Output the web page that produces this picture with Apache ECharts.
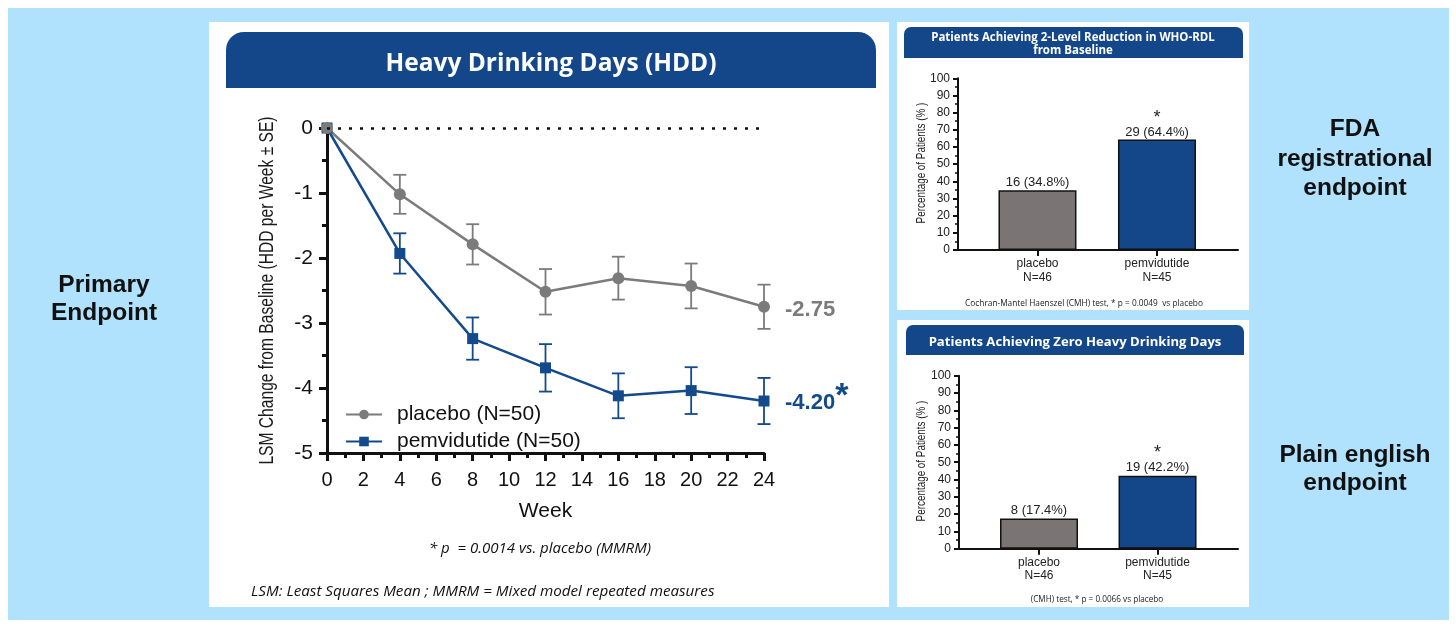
<!DOCTYPE html>
<html>
<head>
<meta charset="utf-8">
<script src="https://cdn.jsdelivr.net/npm/echarts@6/dist/echarts.min.js"></script>
<style>
  html, body { margin: 0; padding: 0; background: #fff; }
  #main { width: 1456px; height: 629px; }
</style>
</head>
<body>
<div id="main"></div>
<script>
// Heavy drinking days, LSM change from baseline
var weeks = [0, 4, 8, 12, 16, 20, 24];
var placeboMean = [0, -1.02, -1.79, -2.52, -2.31, -2.43, -2.75];
var placeboSE = [0, 0.30, 0.31, 0.35, 0.33, 0.345, 0.34];
var pemMean = [0, -1.93, -3.24, -3.69, -4.12, -4.04, -4.20];
var pemSE = [0, 0.31, 0.325, 0.365, 0.345, 0.36, 0.355];

// responder bar charts
var barGroups = ['placebo\nN=46', 'pemvidutide\nN=45'];
var rdlCounts = [16, 29];
var rdlPct = [34.8, 64.4];
var zeroCounts = [8, 19];
var zeroPct = [17.4, 42.2];
var barStars = ['', '*'];

var blue = '#124a8c';
var headerBlue = '#14478a';
var grey = '#7b7b7b';
var barGrey = '#7a7474';
var sans = '"Liberation Sans", Arial, sans-serif';
var open = '"Open Sans", sans-serif';

function errorBars(mean, se, color) {
  return {
    type: 'custom',
    xAxisIndex: 0,
    yAxisIndex: 0,
    z: 1,
    data: weeks.map(function (w, i) { return [w, mean[i] + se[i], mean[i] - se[i]]; }),
    renderItem: function (params, api) {
      if (api.value(1) === api.value(2)) return null;
      var top = api.coord([api.value(0), api.value(1)]);
      var bot = api.coord([api.value(0), api.value(2)]);
      var hw = 6.5;
      var st = { stroke: color, lineWidth: 1.8 };
      return {
        type: 'group',
        children: [
          { type: 'line', shape: { x1: top[0], y1: top[1], x2: bot[0], y2: bot[1] }, style: st },
          { type: 'line', shape: { x1: top[0] - hw, y1: top[1], x2: top[0] + hw, y2: top[1] }, style: st },
          { type: 'line', shape: { x1: bot[0] - hw, y1: bot[1], x2: bot[0] + hw, y2: bot[1] }, style: st }
        ]
      };
    }
  };
}

function barAxisX(grid, min, max) {
  return {
    type: 'value', gridIndex: grid, min: min, max: max,
    axisLine: { show: true, onZero: false, lineStyle: { color: '#111', width: 2 } },
    axisTick: { show: true, customValues: [0, 1], length: 6, lineStyle: { color: '#111', width: 2 } },
    axisLabel: {
      customValues: [0, 1], margin: 7, fontSize: 12, lineHeight: 13.5, color: '#222', fontFamily: sans,
      formatter: function (v) { return barGroups[Math.round(v)]; }
    },
    splitLine: { show: false }
  };
}

function barAxisY(grid) {
  return {
    type: 'value', gridIndex: grid, min: 0, max: 100, interval: 10,
    axisLine: { show: true, onZero: false, lineStyle: { color: '#111', width: 2 } },
    axisTick: { show: true, length: 5, lineStyle: { color: '#111', width: 2 } },
    minorTick: { show: true, splitNumber: 2, length: 3, lineStyle: { color: '#111', width: 1.5 } },
    axisLabel: { margin: 8, fontSize: 12, color: '#222', fontFamily: sans },
    splitLine: { show: false }
  };
}

function barSeries(grid, pct, counts, dist) {
  return {
    type: 'bar', xAxisIndex: grid, yAxisIndex: grid,
    barWidth: 78,
    data: pct.map(function (v, i) {
      return { value: [i, v], itemStyle: { color: i === 0 ? barGrey : headerBlue } };
    }),
    itemStyle: { borderColor: '#111', borderWidth: 1.5 },
    label: {
      show: true, position: 'top', distance: dist, color: '#222',
      formatter: function (p) {
        var txt = '{v|' + counts[p.dataIndex] + ' (' + pct[p.dataIndex] + '%)}';
        return barStars[p.dataIndex] ? '{s|' + barStars[p.dataIndex] + '}\n' + txt : txt;
      },
      rich: {
        v: { fontSize: 13, lineHeight: 15, fontFamily: sans, color: '#222' },
        s: { fontSize: 18, lineHeight: 13, fontFamily: sans, color: '#222' }
      }
    }
  };
}

// rotated, slightly condensed axis titles
function yTitle(text, x, y, size, squeeze) {
  return {
    type: 'text', x: x, y: y, rotation: Math.PI / 2, scaleX: squeeze,
    style: { text: text, fill: '#1a1a1a', fontFamily: sans, fontSize: size, align: 'center', verticalAlign: 'middle' }
  };
}

var chart = echarts.init(document.getElementById('main'));
chart.setOption({
  animation: false,
  backgroundColor: '#fff',
  graphic: [
    { type: 'rect', z: -10, shape: { x: 8, y: 8, width: 1441, height: 612 }, style: { fill: '#b1e2fd' } },
    { type: 'rect', z: -9, shape: { x: 209, y: 22, width: 680, height: 585 }, style: { fill: '#fff' } },
    { type: 'rect', z: -9, shape: { x: 897, y: 22, width: 352, height: 288 }, style: { fill: '#fff' } },
    { type: 'rect', z: -9, shape: { x: 897, y: 320, width: 352, height: 287 }, style: { fill: '#fff' } },
    { type: 'rect', z: -8, shape: { x: 226, y: 32, width: 650, height: 56, r: [18, 18, 0, 0] }, style: { fill: headerBlue } },
    { type: 'rect', z: -8, shape: { x: 904, y: 27, width: 339, height: 31, r: [7, 7, 0, 0] }, style: { fill: headerBlue } },
    { type: 'rect', z: -8, shape: { x: 906, y: 325, width: 338, height: 30, r: [7, 7, 0, 0] }, style: { fill: headerBlue } },
    { type: 'text', x: 551, y: 64, style: { text: 'Heavy Drinking Days (HDD)', fill: '#fff', fontFamily: open, fontWeight: 'bold', fontSize: 24.5, align: 'center', verticalAlign: 'middle' } },
    { type: 'text', x: 1073, y: 44.5, style: { text: 'Patients Achieving 2-Level Reduction in WHO-RDL\nfrom Baseline', fill: '#fff', fontFamily: open, fontWeight: 'bold', fontSize: 11.5, lineHeight: 12.6, align: 'center', verticalAlign: 'middle' } },
    { type: 'text', x: 1075, y: 342.5, style: { text: 'Patients Achieving Zero Heavy Drinking Days', fill: '#fff', fontFamily: open, fontWeight: 'bold', fontSize: 13.1, align: 'center', verticalAlign: 'middle' } },
    { type: 'text', x: 540, y: 549, style: { text: '* p  = 0.0014 vs. placebo (MMRM)', fill: '#111', fontFamily: open, fontStyle: 'italic', fontSize: 15, align: 'center', verticalAlign: 'middle' } },
    { type: 'text', x: 251, y: 592, style: { text: 'LSM: Least Squares Mean ; MMRM = Mixed model repeated measures', fill: '#111', fontFamily: open, fontStyle: 'italic', fontSize: 15.2, align: 'left', verticalAlign: 'middle' } },
    { type: 'text', x: 1084, y: 303.5, style: { text: 'Cochran-Mantel Haenszel (CMH) test, * p = 0.0049  vs placebo', fill: '#222', fontFamily: open, fontSize: 8.3, align: 'center', verticalAlign: 'middle' } },
    { type: 'text', x: 1097, y: 600, style: { text: '(CMH) test, * p = 0.0066 vs placebo', fill: '#222', fontFamily: open, fontSize: 8.2, align: 'center', verticalAlign: 'middle' } },
    { type: 'text', x: 104, y: 299, style: { text: 'Primary\nEndpoint', fill: '#111', fontFamily: sans, fontWeight: 'bold', fontSize: 24.5, lineHeight: 28.5, align: 'center', verticalAlign: 'middle' } },
    { type: 'text', x: 1355, y: 159, style: { text: 'FDA\nregistrational\nendpoint', fill: '#111', fontFamily: sans, fontWeight: 'bold', fontSize: 24.5, lineHeight: 29.5, align: 'center', verticalAlign: 'middle' } },
    { type: 'text', x: 1355, y: 469, style: { text: 'Plain english\nendpoint', fill: '#111', fontFamily: sans, fontWeight: 'bold', fontSize: 24.5, lineHeight: 28, align: 'center', verticalAlign: 'middle' } },
    yTitle('LSM Change from Baseline (HDD per Week \u00b1 SE)', 268, 290.5, 19.5, 0.8),
    yTitle('Percentage of Patients (% )', 922, 163, 12.5, 0.79),
    yTitle('Percentage of Patients (% )', 922, 461, 12.5, 0.79)
  ],
  grid: [
    { left: 327, top: 128, width: 437, height: 325 },
    { left: 958, top: 78.3, width: 280, height: 171.7 },
    { left: 959, top: 375.7, width: 279, height: 173 }
  ],
  legend: {
    data: ['placebo (N=50)', 'pemvidutide (N=50)'],
    orient: 'vertical', left: 340, top: 399,
    itemWidth: 36, itemHeight: 12, itemGap: 6,
    textStyle: { fontSize: 21, color: '#111', fontFamily: sans, padding: [0, 0, 0, 10] }
  },
  xAxis: [
    {
      type: 'value', gridIndex: 0, min: 0, max: 24, interval: 2,
      name: 'Week', nameLocation: 'middle', nameGap: 48,
      nameTextStyle: { fontSize: 21, color: '#111', fontFamily: sans },
      axisLine: { show: true, onZero: false, lineStyle: { color: '#111', width: 3 } },
      axisTick: { show: true, length: 8, lineStyle: { color: '#111', width: 3 } },
      minorTick: { show: true, splitNumber: 2, length: 5, lineStyle: { color: '#111', width: 3 } },
      axisLabel: { margin: 17, fontSize: 20, color: '#111', fontFamily: sans },
      splitLine: { show: false }
    },
    barAxisX(1, -0.665, 1.678),
    barAxisX(2, -0.675, 1.679)
  ],
  yAxis: [
    {
      type: 'value', gridIndex: 0, min: -5, max: 0, interval: 1,
      axisLine: { show: true, onZero: false, lineStyle: { color: '#111', width: 3 } },
      axisTick: { show: true, length: 8, lineStyle: { color: '#111', width: 3 } },
      minorTick: { show: true, splitNumber: 2, length: 5, lineStyle: { color: '#111', width: 3 } },
      axisLabel: { margin: 14, fontSize: 21, color: '#111', fontFamily: sans },
      splitLine: { show: false }
    },
    barAxisY(1),
    barAxisY(2)
  ],
  series: [
    errorBars(pemMean, pemSE, blue),
    errorBars(placeboMean, placeboSE, grey),
    {
      type: 'line', name: 'pemvidutide (N=50)', xAxisIndex: 0, yAxisIndex: 0,
      data: weeks.map(function (w, i) { return [w, pemMean[i]]; }),
      symbol: 'rect', symbolSize: 11,
      itemStyle: { color: blue }, lineStyle: { color: blue, width: 2.5 },
      endLabel: {
        show: true, distance: 21, offset: [0, 2],
        formatter: function (p) { return '{v|' + p.value[1].toFixed(2) + '}{s|*}'; },
        rich: {
          v: { fontSize: 22, fontWeight: 'bold', color: blue, fontFamily: sans },
          s: { fontSize: 34, fontWeight: 'bold', color: blue, fontFamily: sans, padding: [0, 0, 12, 0] }
        }
      }
    },
    {
      type: 'line', name: 'placebo (N=50)', xAxisIndex: 0, yAxisIndex: 0,
      data: weeks.map(function (w, i) { return [w, placeboMean[i]]; }),
      symbol: 'circle', symbolSize: 12,
      itemStyle: { color: grey }, lineStyle: { color: grey, width: 2.5 },
      endLabel: {
        show: true, distance: 21, offset: [0, 3], fontSize: 22, fontWeight: 'bold', color: grey, fontFamily: sans,
        formatter: function (p) { return p.value[1].toFixed(2); }
      },
      markLine: {
        silent: true, symbol: 'none',
        label: { show: false },
        lineStyle: { color: '#111', type: [3, 8], width: 2.5 },
        data: [{ yAxis: 0 }]
      }
    },
    barSeries(1, rdlPct, rdlCounts, 0),
    barSeries(2, zeroPct, zeroCounts, 1)
  ]
});
</script>
</body>
</html>
